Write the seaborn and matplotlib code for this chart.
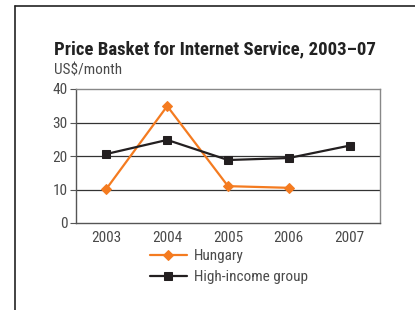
import pandas as pd
import matplotlib.pyplot as plt
import seaborn as sns
from matplotlib.lines import Line2D
from matplotlib.ticker import FixedLocator, NullFormatter

years = ["2003", "2004", "2005", "2006", "2007"]
hungary = [10.2, 34.9, 11.0, 10.5, None]
high_income = [20.6, 24.8, 18.8, 19.4, 23.1]

ORANGE = "#F47B20"
BLACK = "#231F20"
TEXT = "#4a4a4a"


def main():
    sns.set_style("white")
    plt.rcParams["font.family"] = ["Roboto Condensed", "DejaVu Sans"]

    df = pd.DataFrame({"pos": range(len(years)), "year": years,
                       "Hungary": hungary, "High-income group": high_income})

    fig = plt.figure(figsize=(4.15, 3.10), dpi=100)
    ax = fig.add_axes([76 / 415, 1 - 223 / 310, 304 / 415, 134 / 310])

    sns.lineplot(data=df, x="pos", y="Hungary", ax=ax, color=ORANGE, lw=1.6,
                 marker="D", markersize=5.5, markeredgecolor=ORANGE,
                 label="Hungary", zorder=3)
    sns.lineplot(data=df, x="pos", y="High-income group", ax=ax, color=BLACK,
                 lw=1.6, marker="s", markersize=5.5, markeredgecolor=BLACK,
                 label="High-income group", zorder=4)

    ax.set_xlim(-0.5, len(years) - 0.5)
    ax.set_ylim(0, 40)
    ax.set_yticks([0, 10, 20, 30, 40])
    ax.set_yticklabels(["0", "10", "20", "30", "40"])
    ax.xaxis.set_major_locator(FixedLocator([i - 0.5 for i in range(len(years) + 1)]))
    ax.xaxis.set_major_formatter(NullFormatter())
    ax.xaxis.set_minor_locator(FixedLocator(list(range(len(years)))))
    ax.set_xticklabels(years, minor=True)
    ax.tick_params(axis="x", which="major", length=4, width=0.8, color="#555555")
    ax.tick_params(axis="x", which="minor", length=0, pad=6, labelsize=11,
                   labelcolor=TEXT)
    ax.tick_params(axis="y", length=4, width=0.8, color="#555555", pad=2,
                   labelsize=11, labelcolor=TEXT, left=True)
    ax.set_xlabel("")
    ax.set_ylabel("")

    ax.grid(False)
    for y in [10, 20, 30]:
        ax.axhline(y, color="#333333", lw=0.9, zorder=1)
    for s in ax.spines.values():
        s.set_color("#888888")
        s.set_linewidth(1.0)
    ax.spines["left"].set_color("#555555")
    ax.spines["bottom"].set_color("#555555")

    ax.legend(loc="upper left", bbox_to_anchor=(150 / 415, 1 - 249 / 310),
              bbox_transform=fig.transFigure, frameon=False, fontsize=11,
              handlelength=2.4, handletextpad=0.5, labelspacing=0.45,
              labelcolor=TEXT, borderpad=0, borderaxespad=0)

    fig.text(54 / 415, 1 - 54 / 310, "Price Basket for Internet Service, 2003\u201307",
             fontsize=13.5, fontweight="bold", color="#222222", va="baseline")
    fig.text(54 / 415, 1 - 74 / 310, "US$/month", fontsize=11, color=TEXT,
             va="baseline")

    fig.add_artist(Line2D([15 / 415, 15 / 415], [0, 1 - 6 / 310],
                          transform=fig.transFigure, color="#222222", lw=1.2))
    fig.add_artist(Line2D([15 / 415, 1], [1 - 6 / 310, 1 - 6 / 310],
                          transform=fig.transFigure, color="#222222", lw=1.2))

    fig.savefig("out.png", dpi=100)


if __name__ == "__main__":
    main()
